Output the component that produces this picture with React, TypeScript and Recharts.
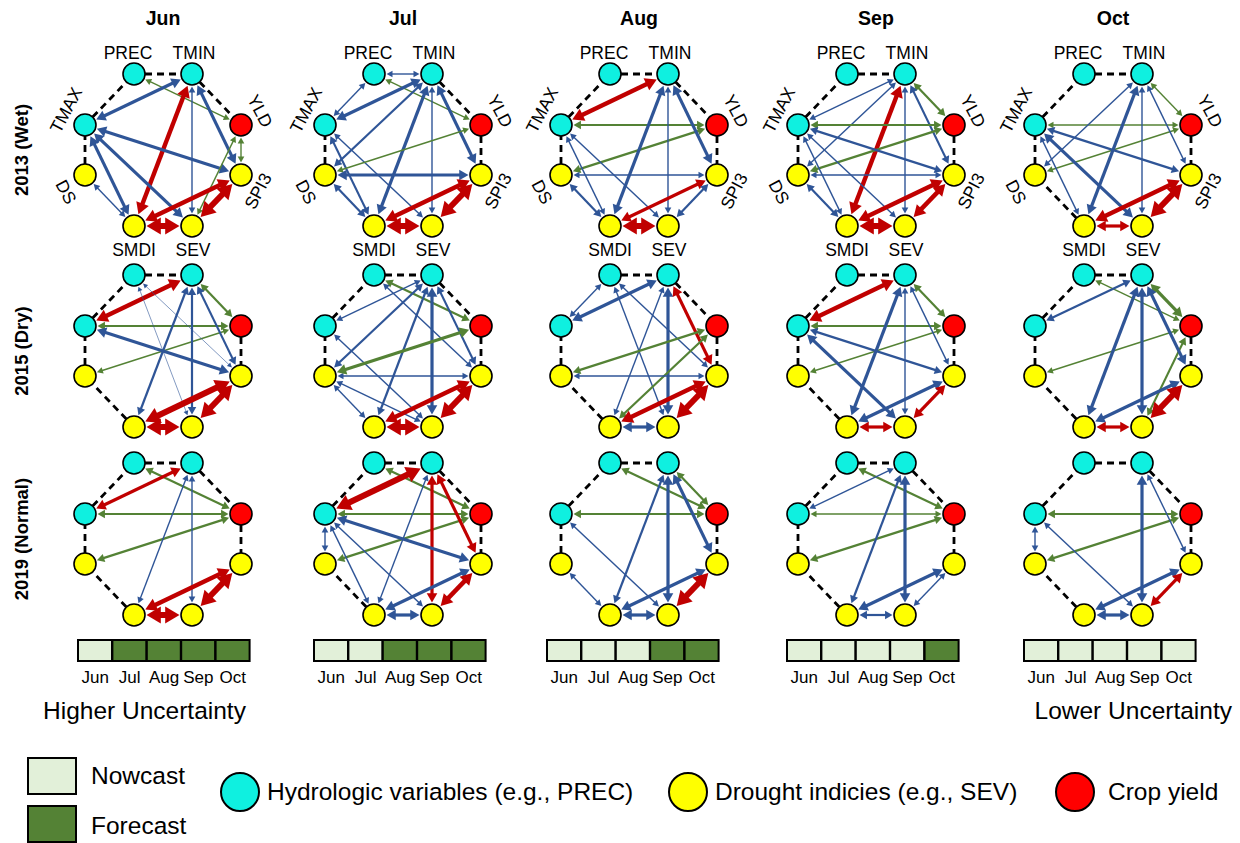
import React from 'react';
import { ScatterChart, Scatter, XAxis, YAxis, ReferenceLine, BarChart, Bar, Cell } from 'recharts';

// Node order around the octagon, clockwise from top-left
const NODE_NAMES = ['PREC', 'TMIN', 'YLD', 'SPI3', 'SEV', 'SMDI', 'DS', 'TMAX'];
const NODE_KIND = ['hydro', 'hydro', 'yield', 'drought', 'drought', 'drought', 'drought', 'hydro'];
const NODE_X = [-29, 29, 78, 78, 29, -29, -78, -78];
const NODE_Y = [76, 76, 25, -25, -76, -76, -25, 25];

const MONTHS = ['Jun', 'Jul', 'Aug', 'Sep', 'Oct'];
const YEARS = ['2013 (Wet)', '2015 (Dry)', '2019 (Normal)'];

// nowcast / forecast months available when each column was issued
const STRIP_STATUS = [
  ['N', 'F', 'F', 'F', 'F'],
  ['N', 'N', 'F', 'F', 'F'],
  ['N', 'N', 'N', 'F', 'F'],
  ['N', 'N', 'N', 'N', 'F'],
  ['N', 'N', 'N', 'N', 'N'],
];

// [from, to, colour, strength]  strength 0 (hairline) .. 5 (heaviest)
type Edge = [number, number, 'b' | 'g' | 'r', number];

const WET_JUN: Edge[] = [[0, 2, 'g', 1], [1, 7, 'b', 3], [1, 5, 'r', 4], [1, 4, 'b', 1], [1, 3, 'b', 3], [7, 3, 'b', 3], [7, 5, 'b', 3], [7, 4, 'b', 3], [6, 5, 'b', 1], [2, 3, 'g', 1], [2, 4, 'g', 1], [3, 5, 'r', 4], [3, 4, 'r', 5], [5, 4, 'r', 5]];
const WET_JUL: Edge[] = [[0, 1, 'b', 1], [0, 7, 'b', 1], [0, 2, 'g', 1], [1, 7, 'b', 3], [1, 6, 'b', 2], [1, 5, 'b', 3], [1, 4, 'b', 1], [1, 3, 'b', 3], [7, 5, 'b', 2], [7, 4, 'b', 1], [6, 2, 'g', 1], [6, 3, 'b', 3], [6, 5, 'b', 2], [3, 5, 'r', 4], [3, 4, 'r', 5], [5, 4, 'r', 5]];
const WET_AUG: Edge[] = [[1, 7, 'r', 4], [7, 2, 'g', 2], [6, 2, 'g', 2], [7, 5, 'b', 1], [7, 4, 'b', 1], [1, 5, 'b', 3], [1, 4, 'b', 1], [1, 3, 'b', 3], [6, 3, 'b', 1], [6, 5, 'b', 2], [3, 5, 'r', 3], [3, 4, 'b', 2], [5, 4, 'r', 5]];
const WET_SEP: Edge[] = [[1, 2, 'g', 2], [1, 7, 'b', 1], [1, 6, 'b', 1], [1, 5, 'r', 4], [1, 4, 'b', 1], [1, 3, 'b', 2], [7, 2, 'g', 2], [6, 2, 'g', 2], [7, 5, 'b', 1], [7, 4, 'b', 1], [7, 3, 'b', 2], [6, 3, 'b', 1], [6, 5, 'b', 2], [3, 5, 'r', 4], [3, 4, 'r', 4], [5, 4, 'r', 5]];
const WET_OCT: Edge[] = [[1, 2, 'g', 1], [7, 2, 'g', 1], [6, 2, 'g', 1], [1, 6, 'b', 1], [1, 5, 'b', 3], [1, 4, 'b', 1], [1, 3, 'b', 1], [7, 5, 'b', 1], [7, 4, 'b', 3], [7, 3, 'b', 2], [3, 5, 'r', 4], [3, 4, 'r', 5], [5, 4, 'r', 3]];

const DRY_JUN: Edge[] = [[1, 7, 'r', 4], [1, 2, 'g', 2], [7, 2, 'g', 2], [6, 2, 'g', 1], [7, 3, 'b', 3], [1, 5, 'b', 2], [1, 4, 'b', 2], [1, 3, 'b', 2], [0, 4, 'b', 0], [0, 3, 'b', 0], [3, 5, 'r', 5], [3, 4, 'r', 5], [5, 4, 'r', 5]];
const DRY_JUL: Edge[] = [[0, 2, 'g', 2], [1, 7, 'b', 1], [1, 6, 'b', 2], [1, 5, 'b', 2], [1, 4, 'b', 3], [1, 3, 'b', 2], [0, 3, 'b', 1], [7, 4, 'b', 1], [6, 3, 'b', 1], [6, 4, 'b', 1], [6, 5, 'b', 1], [6, 2, 'g', 3], [3, 5, 'r', 4], [3, 4, 'r', 5], [5, 4, 'r', 5]];
const DRY_AUG: Edge[] = [[0, 7, 'b', 1], [1, 7, 'b', 3], [0, 4, 'b', 1], [0, 3, 'b', 1], [1, 5, 'b', 1], [1, 4, 'b', 3], [1, 3, 'r', 3], [2, 6, 'g', 2], [2, 5, 'g', 2], [6, 3, 'b', 1], [3, 5, 'r', 4], [3, 4, 'r', 5], [5, 4, 'b', 3]];
const DRY_SEP: Edge[] = [[1, 7, 'r', 4], [1, 2, 'g', 2], [7, 2, 'g', 2], [6, 2, 'g', 1], [7, 3, 'b', 2], [1, 5, 'b', 3], [1, 4, 'b', 1], [1, 3, 'b', 1], [7, 4, 'b', 3], [3, 5, 'b', 3], [3, 4, 'r', 3], [5, 4, 'r', 3]];
const DRY_OCT: Edge[] = [[0, 2, 'g', 1], [1, 7, 'b', 2], [1, 2, 'g', 3], [6, 2, 'g', 1], [2, 4, 'g', 2], [1, 5, 'b', 3], [1, 4, 'b', 3], [1, 3, 'b', 3], [3, 5, 'b', 3], [3, 4, 'r', 5], [5, 4, 'r', 3]];

const NORMAL_JUN: Edge[] = [[0, 2, 'g', 2], [1, 7, 'r', 3], [7, 2, 'g', 2], [6, 2, 'g', 2], [1, 5, 'b', 1], [1, 4, 'b', 1], [3, 5, 'r', 4], [3, 4, 'r', 5], [5, 4, 'r', 5]];
const NORMAL_JUL: Edge[] = [[0, 2, 'g', 2], [1, 7, 'r', 5], [7, 2, 'g', 2], [6, 2, 'g', 2], [1, 5, 'b', 1], [1, 4, 'r', 3], [1, 3, 'r', 3], [7, 6, 'b', 1], [7, 3, 'b', 3], [7, 5, 'b', 1], [7, 4, 'b', 1], [3, 5, 'b', 3], [3, 4, 'r', 4], [5, 4, 'b', 3]];
const NORMAL_AUG: Edge[] = [[0, 2, 'g', 2], [1, 2, 'g', 2], [7, 2, 'g', 2], [7, 4, 'b', 1], [1, 5, 'b', 2], [1, 4, 'b', 3], [1, 3, 'b', 3], [6, 5, 'b', 1], [3, 5, 'b', 3], [3, 4, 'r', 5], [5, 4, 'b', 3]];
const NORMAL_SEP: Edge[] = [[0, 2, 'g', 2], [7, 2, 'g', 1], [6, 2, 'g', 2], [1, 7, 'b', 1], [1, 5, 'b', 2], [1, 4, 'b', 3], [3, 5, 'b', 3], [3, 4, 'b', 1], [5, 4, 'b', 2]];
const NORMAL_OCT: Edge[] = [[7, 2, 'g', 2], [6, 2, 'g', 2], [7, 6, 'b', 1], [7, 4, 'b', 1], [1, 4, 'b', 3], [1, 3, 'b', 1], [3, 5, 'b', 3], [3, 4, 'r', 3], [5, 4, 'b', 3]];

const PANELS: Edge[][][] = [
  [WET_JUN, WET_JUL, WET_AUG, WET_SEP, WET_OCT],
  [DRY_JUN, DRY_JUL, DRY_AUG, DRY_SEP, DRY_OCT],
  [NORMAL_JUN, NORMAL_JUL, NORMAL_AUG, NORMAL_SEP, NORMAL_OCT],
];

// layout
const COL_CX = [163, 403, 639, 876, 1113];
const ROW_CY = [150, 351, 539];
const STRIP_LEFT = [78, 314, 547, 787, 1024];
const PANEL_W = 240;
const PANEL_H = 220;
const NODE_R = 11;
const FONT = 'Arial, "Liberation Sans", sans-serif';

const EDGE_COLORS: Record<string, string> = { b: '#2F5597', g: '#548235', r: '#C00000' };
const STROKE_PX = [0.6, 1.4, 2.2, 3.2, 4.4, 6];
const KIND_FILL: Record<string, string> = { hydro: '#0FF0E0', drought: '#FFFF00', yield: '#FF0000' };
const LIGHT = '#E2F0D9';
const DARK = '#548235';

// label offsets (px, y down) and rotation for the node names in the top row
const LABEL_DX = [-6, 2, 19, 17, 1, 0, -19, -19];
const LABEL_DY = [-21, -21, -14, 16, 24, 24, 17, -15];
const LABEL_ROT = [0, 0, 62, -62, 0, 0, 62, -62];

const arrowShape = (color: string, w: number) => (p: any) => {
  const { x1, y1, x2, y2 } = p;
  const dx = x2 - x1;
  const dy = y2 - y1;
  const len = Math.hypot(dx, dy) || 1;
  const ux = dx / len;
  const uy = dy / len;
  const nx = -uy;
  const ny = ux;
  const gap = NODE_R + 1.5;
  const sx = x1 + ux * gap;
  const sy = y1 + uy * gap;
  const ex = x2 - ux * gap;
  const ey = y2 - uy * gap;
  const hl = 3.5 + w * 1.8;
  const hw = 1.8 + w * 1.1;
  const head = (tx: number, ty: number, ax: number, ay: number) =>
    `${tx},${ty} ${tx - ax * hl + nx * hw},${ty - ay * hl + ny * hw} ${tx - ax * hl - nx * hw},${ty - ay * hl - ny * hw}`;
  return (
    <g>
      <line
        x1={sx + ux * hl * 0.8}
        y1={sy + uy * hl * 0.8}
        x2={ex - ux * hl * 0.8}
        y2={ey - uy * hl * 0.8}
        stroke={color}
        strokeWidth={w}
      />
      <polygon points={head(ex, ey, ux, uy)} fill={color} />
      <polygon points={head(sx, sy, -ux, -uy)} fill={color} />
    </g>
  );
};

const dashedShape = (p: any) => {
  const { x1, y1, x2, y2 } = p;
  const len = Math.hypot(x2 - x1, y2 - y1) || 1;
  const ux = (x2 - x1) / len;
  const uy = (y2 - y1) / len;
  return (
    <line
      x1={x1 + ux * NODE_R}
      y1={y1 + uy * NODE_R}
      x2={x2 - ux * NODE_R}
      y2={y2 - uy * NODE_R}
      stroke="#000"
      strokeWidth={2.8}
      strokeDasharray="7 5"
    />
  );
};

const nodeShape = (showLabels: boolean) => (p: any) => {
  const { cx, cy, payload } = p;
  const i = payload.idx;
  const tx = cx + LABEL_DX[i];
  const ty = cy + LABEL_DY[i];
  return (
    <g>
      <circle cx={cx} cy={cy} r={NODE_R} fill={KIND_FILL[payload.kind]} stroke="#000" strokeWidth={1.6} />
      {showLabels && (
        <text
          x={tx}
          y={ty}
          transform={`rotate(${LABEL_ROT[i]} ${tx} ${ty})`}
          textAnchor="middle"
          dominantBaseline="central"
          fontSize={17.5}
          fontFamily={FONT}
          fill="#000"
        >
          {payload.name}
        </text>
      )}
    </g>
  );
};

function Network({ edges, showLabels }: { edges: Edge[]; showLabels: boolean }) {
  const nodes = NODE_NAMES.map((name, idx) => ({ idx, name, kind: NODE_KIND[idx], x: NODE_X[idx], y: NODE_Y[idx] }));
  const linked = (a: number, b: number) => edges.some(([f, t]) => (f === a && t === b) || (f === b && t === a));
  const sides = NODE_NAMES.map((_, i) => [i, (i + 1) % NODE_NAMES.length]).filter(([a, b]) => !linked(a, b));
  return (
    <ScatterChart width={PANEL_W} height={PANEL_H} margin={{ top: 0, right: 0, bottom: 0, left: 0 }}>
      <XAxis type="number" dataKey="x" domain={[-PANEL_W / 2, PANEL_W / 2]} hide />
      <YAxis type="number" dataKey="y" domain={[-PANEL_H / 2, PANEL_H / 2]} hide />
      {sides.map(([a, b]) => (
        <ReferenceLine
          key={`s${a}`}
          segment={[{ x: NODE_X[a], y: NODE_Y[a] }, { x: NODE_X[b], y: NODE_Y[b] }]}
          shape={dashedShape}
          ifOverflow="visible"
        />
      ))}
      {edges.map(([f, t, c, s], k) => (
        <ReferenceLine
          key={`e${k}`}
          segment={[{ x: NODE_X[f], y: NODE_Y[f] }, { x: NODE_X[t], y: NODE_Y[t] }]}
          shape={arrowShape(EDGE_COLORS[c], STROKE_PX[s])}
          ifOverflow="visible"
        />
      ))}
      <Scatter data={nodes} shape={nodeShape(showLabels)} isAnimationActive={false} />
    </ScatterChart>
  );
}

function Strip({ status }: { status: string[] }) {
  const data = MONTHS.map((month, i) => ({ month, v: 1, status: status[i] }));
  return (
    <BarChart width={178} height={56} data={data} margin={{ top: 3, right: 3, bottom: 0, left: 3 }} barCategoryGap={0}>
      <XAxis
        dataKey="month"
        axisLine={false}
        tickLine={false}
        interval={0}
        height={32}
        tickMargin={4}
        tick={{ fontSize: 17, fill: '#000', fontFamily: FONT }}
      />
      <YAxis hide domain={[0, 1]} />
      <Bar dataKey="v" isAnimationActive={false} stroke="#000" strokeWidth={2}>
        {data.map((d, i) => (
          <Cell key={i} fill={d.status === 'F' ? DARK : LIGHT} />
        ))}
      </Bar>
    </BarChart>
  );
}

const abs = (left: number, top: number, extra: React.CSSProperties = {}): React.CSSProperties => ({
  position: 'absolute',
  left,
  top,
  ...extra,
});

const legendText: React.CSSProperties = { fontSize: 24.5, lineHeight: '30px', whiteSpace: 'nowrap' };

export default function App() {
  return (
    <div style={{ position: 'absolute', left: 0, top: 0, width: 1240, height: 843, background: '#fff', overflow: 'hidden', fontFamily: FONT, color: '#000' }}>
      {MONTHS.map((m, c) => (
        <div key={m} style={abs(COL_CX[c] - 50, 5, { width: 100, textAlign: 'center', fontWeight: 'bold', fontSize: 19.5, lineHeight: '26px' })}>
          {m}
        </div>
      ))}
      {YEARS.map((y, r) => (
        <div
          key={y}
          style={abs(22 - 100, ROW_CY[r] - 12, { width: 200, height: 24, lineHeight: '24px', textAlign: 'center', fontWeight: 'bold', fontSize: 18.5, transform: 'rotate(-90deg)' })}
        >
          {y}
        </div>
      ))}
      {PANELS.map((row, r) =>
        row.map((edges, c) => (
          <div key={`${r}-${c}`} style={abs(COL_CX[c] - PANEL_W / 2, ROW_CY[r] - PANEL_H / 2)}>
            <Network edges={edges} showLabels={r === 0} />
          </div>
        ))
      )}
      {STRIP_STATUS.map((status, c) => (
        <div key={c} style={abs(STRIP_LEFT[c] - 3, 637)}>
          <Strip status={status} />
        </div>
      ))}
      <div style={abs(43, 696, legendText)}>Higher Uncertainty</div>
      <div style={{ position: 'absolute', right: 8, top: 696, ...legendText }}>Lower Uncertainty</div>

      <div style={abs(27, 757, { width: 50, height: 38, boxSizing: 'border-box', border: '2.5px solid #000', background: LIGHT })} />
      <div style={abs(91, 761, legendText)}>Nowcast</div>
      <div style={abs(27, 805, { width: 50, height: 38, boxSizing: 'border-box', border: '2.5px solid #000', background: DARK })} />
      <div style={abs(91, 811, legendText)}>Forecast</div>

      <div style={abs(220, 772, { width: 40, height: 40, boxSizing: 'border-box', borderRadius: '50%', border: '2px solid #000', background: KIND_FILL.hydro })} />
      <div style={abs(267, 777, legendText)}>Hydrologic variables (e.g., PREC)</div>
      <div style={abs(668, 772, { width: 40, height: 40, boxSizing: 'border-box', borderRadius: '50%', border: '2px solid #000', background: KIND_FILL.drought })} />
      <div style={abs(715, 777, legendText)}>Drought indicies (e.g., SEV)</div>
      <div style={abs(1055, 772, { width: 40, height: 40, boxSizing: 'border-box', borderRadius: '50%', border: '2px solid #000', background: KIND_FILL.yield })} />
      <div style={abs(1108, 777, legendText)}>Crop yield</div>
    </div>
  );
}
